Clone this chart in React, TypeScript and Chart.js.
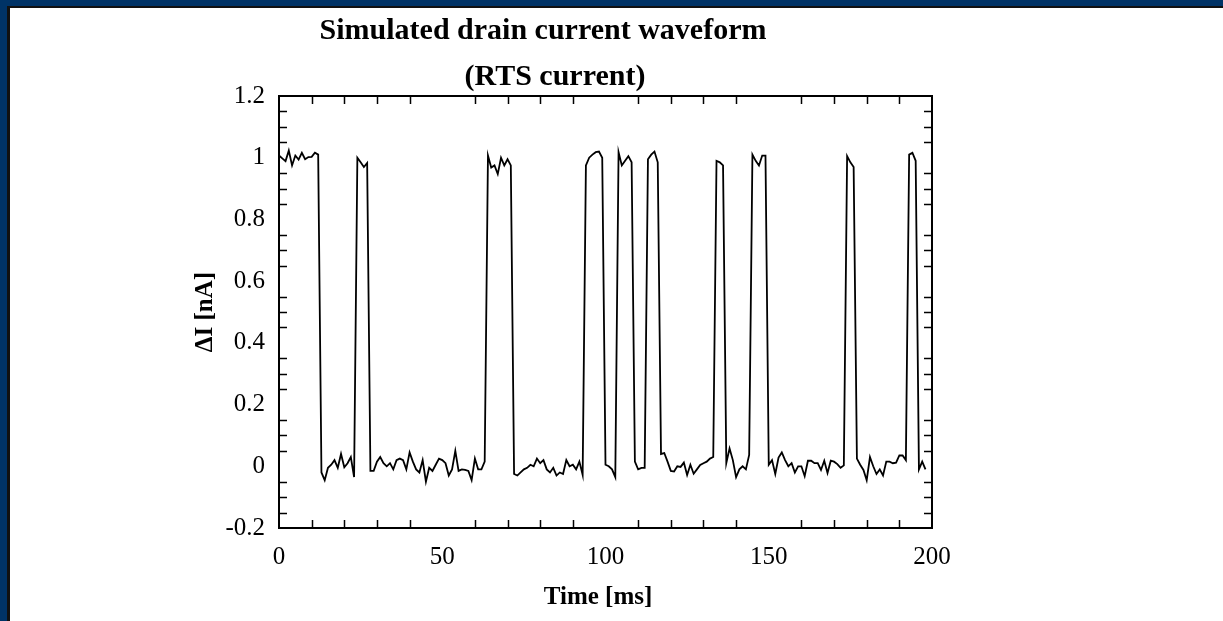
import React, { useEffect, useRef } from 'react';
import { Chart, registerables } from 'chart.js';

Chart.register(...registerables);

// ---- data ----
const SAMPLE_MS = 1;
const currentNA: number[] = [
  1.007, 0.998, 0.989, 1.023, 0.975, 1.007, 0.994, 1.016, 0.995, 1.002,
  1.003, 1.016, 1.010, -0.02, -0.045, -0.005, 0.005, 0.02, -0.005, 0.04,
  -0.003, 0.01, 0.03, -0.035, 1.0, 0.985, 0.97, 0.983, -0.015, -0.015,
  0.015, 0.03, 0.01, 0.0, 0.01, -0.01, 0.02, 0.025, 0.02, -0.01,
  0.045, 0.015, -0.01, -0.02, 0.02, -0.05, -0.005, -0.015, 0.005, 0.025,
  0.02, 0.01, -0.03, -0.01, 0.05, -0.015, -0.01, -0.012, -0.015, -0.045,
  0.025, -0.01, -0.01, 0.015, 1.007, 0.968, 0.975, 0.947, 1.0, 0.975,
  0.995, 0.975, -0.025, -0.03, -0.02, -0.01, -0.005, 0.005, 0.0, 0.025,
  0.01, 0.02, -0.01, -0.02, -0.005, -0.03, -0.02, -0.025, 0.02, 0.0,
  0.005, -0.01, 0.015, -0.028, 0.975, 1.0, 1.01, 1.018, 1.02, 1.0,
  0.005, 0.0, -0.01, -0.035, 1.018, 0.975, 0.99, 1.005, 0.985, 0.015,
  -0.01, -0.005, -0.005, 0.995, 1.01, 1.02, 0.985, 0.04, 0.043, 0.015,
  -0.015, -0.017, 0.0, -0.002, 0.012, -0.028, 0.005, -0.024, -0.01, 0.004,
  0.01, 0.015, 0.025, 0.03, 0.99, 0.985, 0.975, 0.01, 0.058, 0.02,
  -0.035, -0.01, 0.0, -0.01, 0.037, 1.01, 0.99, 0.975, 1.007, 1.007,
  0.005, 0.02, -0.025, 0.028, 0.045, 0.02, 0.0, 0.01, -0.02, 0.0,
  0.0, -0.032, 0.018, 0.018, 0.01, 0.01, -0.012, 0.018, -0.022, 0.018,
  0.015, 0.007, -0.005, 0.003, 1.005, 0.985, 0.97, 0.025, 0.005, -0.012,
  -0.045, 0.03, 0.0, -0.025, -0.01, -0.03, 0.015, 0.015, 0.01, 0.012,
  0.035, 0.035, 0.02, 1.01, 1.016, 0.99, -0.01, 0.015, -0.01,
];

const xMin = 0;
const xMax = 200;
const xMajorStep = 50;
const xMinorStep = 10;
const yMin = -0.2;
const yMax = 1.2;
const yMajorStep = 0.2;
const yMinorStep = 0.05;

const titleLines = ['Simulated drain current waveform', '(RTS current)'];
const xTitle = 'Time [ms]';
const yTitle = '\u0394I [nA]';

const FONT = '"Liberation Serif", "Times New Roman", serif';

const framePlugin = {
  id: 'framePlugin',
  afterDraw(chart: any) {
    const { ctx, chartArea } = chart;
    const xs = chart.scales.x;
    const ys = chart.scales.y;
    const { left, right, top, bottom } = chartArea;
    ctx.save();
    ctx.strokeStyle = '#000';
    // minor ticks
    ctx.lineWidth = 1.5;
    const tl = 8;
    ctx.beginPath();
    for (let i = 1; i * xMinorStep < xMax - xMin; i++) {
      const v = xMin + i * xMinorStep;
      if (Math.abs(v / xMajorStep - Math.round(v / xMajorStep)) < 1e-6) continue;
      const px = Math.round(xs.getPixelForValue(v)) + 0.5;
      ctx.moveTo(px, bottom);
      ctx.lineTo(px, bottom - tl);
      ctx.moveTo(px, top);
      ctx.lineTo(px, top + tl);
    }
    const nY = Math.round((yMax - yMin) / yMinorStep);
    for (let i = 1; i < nY; i++) {
      const v = yMin + i * yMinorStep;
      const r = (v - yMin) / yMajorStep;
      if (Math.abs(r - Math.round(r)) < 1e-6) continue;
      const py = Math.round(ys.getPixelForValue(v)) + 0.5;
      ctx.moveTo(left, py);
      ctx.lineTo(left + tl, py);
      ctx.moveTo(right, py);
      ctx.lineTo(right - tl, py);
    }
    ctx.stroke();
    // box
    ctx.lineWidth = 2;
    ctx.strokeRect(left, top, right - left, bottom - top);
    // titles
    ctx.fillStyle = '#000';
    ctx.textAlign = 'center';
    ctx.textBaseline = 'middle';
    ctx.font = `bold 30px ${FONT}`;
    ctx.fillText(titleLines[0], 543, 31);
    ctx.fillText(titleLines[1], 555, 77);
    ctx.font = `bold 25px ${FONT}`;
    ctx.fillText(xTitle, 598, 598);
    ctx.restore();
  },
};

export default function App() {
  const canvasRef = useRef<HTMLCanvasElement | null>(null);

  useEffect(() => {
    const canvas = canvasRef.current;
    if (!canvas) return;
    const points = currentNA.map((v, i) => ({ x: i * SAMPLE_MS, y: v }));
    const chart = new Chart(canvas, {
      type: 'line',
      data: {
        datasets: [
          {
            data: points,
            borderColor: '#000',
            borderWidth: 1.8,
            pointRadius: 0,
            tension: 0,
            fill: false,
          },
        ],
      },
      options: {
        animation: false,
        responsive: false,
        events: [],
        layout: { padding: { left: 0, top: 96, right: 291, bottom: 0 } },
        plugins: {
          legend: { display: false },
          tooltip: { enabled: false },
          title: { display: false },
        },
        scales: {
          x: {
            type: 'linear',
            min: xMin,
            max: xMax,
            afterFit: (s: any) => {
              s.height = 93;
            },
            grid: { display: false, drawTicks: false },
            border: { display: false },
            ticks: {
              stepSize: xMajorStep,
              padding: 14,
              color: '#000',
              font: { family: FONT, size: 25 },
              maxRotation: 0,
            },
          },
          y: {
            type: 'linear',
            min: yMin,
            max: yMax,
            afterFit: (s: any) => {
              s.width = 279;
            },
            grid: { display: false, drawTicks: false },
            border: { display: false },
            ticks: {
              stepSize: yMajorStep,
              padding: 14,
              color: '#000',
              font: { family: FONT, size: 25 },
              callback: (v: any) => {
                const n = Math.round(Number(v) * 10) / 10;
                return String(n);
              },
            },
            title: {
              display: true,
              text: yTitle,
              color: '#000',
              font: { family: FONT, size: 25, weight: 'bold' },
              padding: { top: 191, bottom: 0 },
            },
          },
        },
      },
      plugins: [framePlugin],
    });
    return () => chart.destroy();
  }, []);

  return (
    <div
      style={{
        position: 'fixed',
        left: 0,
        top: 0,
        width: 1223,
        height: 621,
        background: '#003366',
        overflow: 'hidden',
      }}
    >
      <div
        style={{
          position: 'absolute',
          left: 7,
          top: 6,
          right: 0,
          bottom: 0,
          background: '#fff',
          borderLeft: '3px solid #111',
          borderTop: '2px solid #111',
        }}
      />
      <canvas
        ref={canvasRef}
        width={1223}
        height={621}
        style={{ position: 'absolute', left: 0, top: 0, width: 1223, height: 621, display: 'block' }}
      />
    </div>
  );
}
